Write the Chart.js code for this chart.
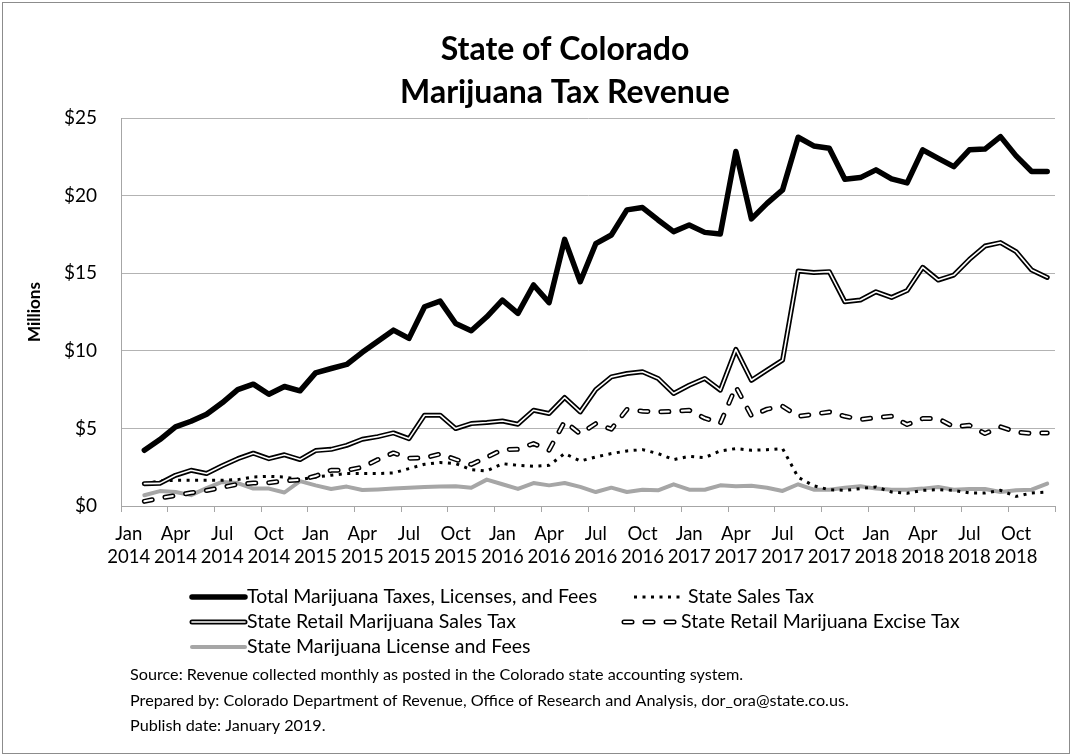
<!DOCTYPE html>
<html>
<head>
<meta charset="utf-8">
<script src="https://cdn.jsdelivr.net/npm/chart.js@4.4.0/dist/chart.umd.min.js"></script>
<style>
  html, body { margin: 0; padding: 0; background: #fff; }
  canvas { display: block; }
</style>
</head>
<body>
<canvas id="chart" width="1072" height="756"></canvas>
<script>
// ---- data (millions of dollars, Jan 2014 .. Dec 2018; Jan 2014 has no collections) ----
const monthNames = ['Jan', 'Feb', 'Mar', 'Apr', 'May', 'Jun', 'Jul', 'Aug', 'Sep', 'Oct', 'Nov', 'Dec'];
const years = ['2014', '2015', '2016', '2017', '2018'];

const totalTaxes = [null, 3.59, 4.28, 5.1, 5.46, 5.91, 6.65, 7.5, 7.85, 7.2, 7.7, 7.42,
  8.58, 8.86, 9.12, 9.9, 10.62, 11.33, 10.8, 12.84, 13.2, 11.76, 11.29, 12.19,
  13.27, 12.41, 14.24, 13.1, 17.18, 14.45, 16.9, 17.46, 19.08, 19.23, 18.43, 17.68,
  18.1, 17.63, 17.53, 22.84, 18.5, 19.5, 20.37, 23.76, 23.2, 23.05, 21.05, 21.16,
  21.66, 21.08, 20.82, 22.95, 22.4, 21.87, 22.95, 23.0, 23.8, 22.56, 21.55, 21.55];

const stateSalesTax = [null, 1.44, 1.61, 1.66, 1.66, 1.66, 1.66, 1.7, 1.87, 1.91, 1.87, 1.7,
  1.87, 1.98, 2.09, 2.09, 2.09, 2.13, 2.41, 2.69, 2.8, 2.73, 2.34, 2.26,
  2.73, 2.62, 2.56, 2.62, 3.38, 2.9, 3.16, 3.38, 3.55, 3.63, 3.38, 2.99,
  3.2, 3.12, 3.55, 3.7, 3.59, 3.63, 3.7, 1.85, 1.3, 1.05, 1.01, 1.12,
  1.23, 0.9, 0.82, 1.01, 1.05, 1.01, 0.84, 0.84, 1.01, 0.62, 0.84, 0.9];

const retailSalesTax = [null, 1.44, 1.46, 1.98, 2.3, 2.09, 2.59, 3.05, 3.4, 3.05, 3.3, 2.99,
  3.57, 3.65, 3.91, 4.3, 4.47, 4.71, 4.34, 5.85, 5.85, 4.99, 5.31, 5.38,
  5.48, 5.27, 6.17, 5.96, 6.99, 6.06, 7.5, 8.32, 8.54, 8.65, 8.22, 7.25,
  7.78, 8.22, 7.46, 10.09, 8.1, 8.75, 9.4, 15.14, 15.05, 15.1, 13.16, 13.27,
  13.8, 13.44, 13.88, 15.38, 14.56, 14.88, 15.89, 16.75, 16.97, 16.39, 15.2, 14.73];

const exciseTax = [null, 0.3, 0.5, 0.68, 0.85, 1.0, 1.2, 1.4, 1.48, 1.5, 1.62, 1.68,
  1.93, 2.3, 2.3, 2.5, 2.99, 3.42, 3.08, 3.1, 3.35, 3.0, 2.68, 3.14,
  3.63, 3.66, 4.02, 3.6, 5.45, 4.65, 5.31, 4.95, 6.22, 6.11, 6.06, 6.1,
  6.17, 5.66, 5.33, 7.68, 5.8, 6.24, 6.43, 5.78, 5.91, 6.06, 5.78, 5.57,
  5.7, 5.78, 5.25, 5.63, 5.63, 5.1, 5.2, 4.67, 5.1, 4.77, 4.67, 4.71];

const licenseFees = [null, 0.69, 0.96, 0.9, 0.7, 1.15, 1.55, 1.48, 1.12, 1.12, 0.87, 1.6,
  1.33, 1.1, 1.25, 1.03, 1.07, 1.12, 1.17, 1.23, 1.25, 1.27, 1.18, 1.7,
  1.4, 1.1, 1.48, 1.33, 1.48, 1.23, 0.9, 1.18, 0.9, 1.05, 1.01, 1.4,
  1.05, 1.05, 1.33, 1.27, 1.3, 1.18, 0.97, 1.4, 1.05, 1.05, 1.18, 1.27,
  1.12, 1.05, 1.05, 1.12, 1.23, 1.05, 1.1, 1.1, 0.9, 1.01, 1.05, 1.44];

const seriesNames = [
  'Total Marijuana Taxes, Licenses, and Fees',
  'State Sales Tax',
  'State Retail Marijuana Sales Tax',
  'State Retail Marijuana Excise Tax',
  'State Marijuana License and Fees'
];

const titleLines = ['State of Colorado', 'Marijuana Tax Revenue'];
const notes = [
  'Source: Revenue collected monthly as posted in the Colorado state accounting system.',
  'Prepared by: Colorado Department of Revenue, Office of Research and Analysis, dor_ora@state.co.us.',
  'Publish date: January 2019.'
];

const labels = [];
years.forEach(y => monthNames.forEach(m => labels.push([m, y])));

// ---- line styles (shared by datasets and the legend) ----
const FONT = 'Lato, "Open Sans", sans-serif';
const styles = {
  total:       { color: '#000', width: 5.5, dash: [], cap: 'round' },
  sales:       { color: '#000', width: 3, dash: [3, 5.5], cap: 'butt' },
  retailOuter: { color: '#000', width: 5, dash: [], cap: 'round' },
  retailInner: { color: '#fff', width: 1.6, dash: [], cap: 'round' },
  exciseOuter: { color: '#000', width: 5, dash: [8, 13], cap: 'round' },
  exciseInner: { color: '#fff', width: 2, dash: [8, 13], cap: 'round' },
  license:     { color: '#a6a6a6', width: 4, dash: [], cap: 'round' }
};

function ds(label, data, st, order) {
  return {
    label, data, order,
    borderColor: st.color, borderWidth: st.width, borderDash: st.dash,
    borderCapStyle: st.cap, borderJoinStyle: 'round',
    pointRadius: 0, tension: 0, fill: false
  };
}

function sample(ctx, st, x1, x2, y) {
  ctx.save();
  ctx.strokeStyle = st.color;
  ctx.lineWidth = st.width;
  ctx.setLineDash(st.dash);
  ctx.lineCap = st.cap;
  ctx.beginPath();
  ctx.moveTo(x1, y);
  ctx.lineTo(x2, y);
  ctx.stroke();
  ctx.restore();
}

const decorations = {
  id: 'decorations',
  beforeDraw(chart) {
    const ctx = chart.ctx;
    ctx.save();
    ctx.fillStyle = '#fff';
    ctx.fillRect(0, 0, chart.width, chart.height);
    ctx.restore();
  },
  afterDraw(chart) {
    const ctx = chart.ctx;
    ctx.save();
    // title
    ctx.fillStyle = '#000';
    ctx.textAlign = 'center';
    ctx.textBaseline = 'alphabetic';
    ctx.font = 'bold 32px ' + FONT;
    ctx.fillText(titleLines[0], 565, 60);
    ctx.fillText(titleLines[1], 565, 103);

    // legend
    const rows = [597, 622, 647];
    ctx.font = '19.5px ' + FONT;
    ctx.textAlign = 'left';
    ctx.textBaseline = 'middle';
    sample(ctx, styles.total, 192, 245, rows[0]);
    ctx.fillText(seriesNames[0], 247, rows[0]);
    sample(ctx, styles.sales, 634, 680, rows[0]);
    ctx.fillText(seriesNames[1], 688, rows[0]);
    sample(ctx, styles.retailOuter, 192, 245, rows[1]);
    sample(ctx, styles.retailInner, 192, 245, rows[1]);
    ctx.fillText(seriesNames[2], 247, rows[1]);
    sample(ctx, styles.exciseOuter, 624, 676, rows[1]);
    sample(ctx, styles.exciseInner, 624, 676, rows[1]);
    ctx.fillText(seriesNames[3], 681, rows[1]);
    sample(ctx, styles.license, 192, 245, rows[2]);
    ctx.fillText(seriesNames[4], 247, rows[2]);

    // footnotes
    ctx.font = '16.2px ' + FONT;
    notes.forEach((t, i) => ctx.fillText(t, 130, 675 + i * 25.5));

    // outer frame
    ctx.strokeStyle = '#8c8c8c';
    ctx.lineWidth = 1;
    ctx.strokeRect(2.5, 2.5, 1067, 751);
    ctx.restore();
  }
};

new Chart(document.getElementById('chart'), {
  type: 'line',
  data: {
    labels,
    datasets: [
      ds(seriesNames[0], totalTaxes, styles.total, 0),
      ds(seriesNames[2], retailSalesTax, styles.retailInner, 1),
      ds(seriesNames[2], retailSalesTax, styles.retailOuter, 2),
      ds(seriesNames[3], exciseTax, styles.exciseInner, 3),
      ds(seriesNames[3], exciseTax, styles.exciseOuter, 4),
      ds(seriesNames[1], stateSalesTax, styles.sales, 5),
      ds(seriesNames[4], licenseFees, styles.license, 6)
    ]
  },
  options: {
    responsive: false,
    animation: false,
    layout: { padding: { top: 118, right: 17, left: 0, bottom: 0 } },
    plugins: { legend: { display: false }, title: { display: false }, tooltip: { enabled: false } },
    scales: {
      x: {
        type: 'category',
        offset: true,
        border: { color: '#a6a6a6', width: 1 },
        grid: {
          offset: true,
          drawOnChartArea: false,
          drawTicks: true,
          tickLength: 6,
          tickWidth: 1,
          tickColor: c => (c.index === undefined || c.index % 3 === 0) ? '#a6a6a6' : 'rgba(0,0,0,0)'
        },
        ticks: {
          autoSkip: false, maxRotation: 0, minRotation: 0,
          padding: 10, color: '#000',
          font: { family: FONT, size: 18.5, lineHeight: 1.28 },
          callback(v, i) { return i % 3 === 0 ? this.getLabelForValue(v) : ''; }
        },
        afterFit(s) { s.height = 250; }
      },
      y: {
        min: 0, max: 25,
        border: { color: '#a6a6a6', width: 1 },
        grid: { color: '#b3b3b3', lineWidth: 1, drawTicks: false },
        ticks: {
          stepSize: 5, padding: 24, color: '#000',
          font: { family: FONT, size: 19 },
          callback: v => '$' + v
        },
        title: {
          display: true, text: 'Millions', color: '#000',
          font: { family: FONT, size: 17, weight: 'bold' },
          padding: { top: 24, bottom: 0 }
        },
        afterFit(s) { s.width = 121; }
      }
    }
  },
  plugins: [decorations]
});
</script>
</body>
</html>
